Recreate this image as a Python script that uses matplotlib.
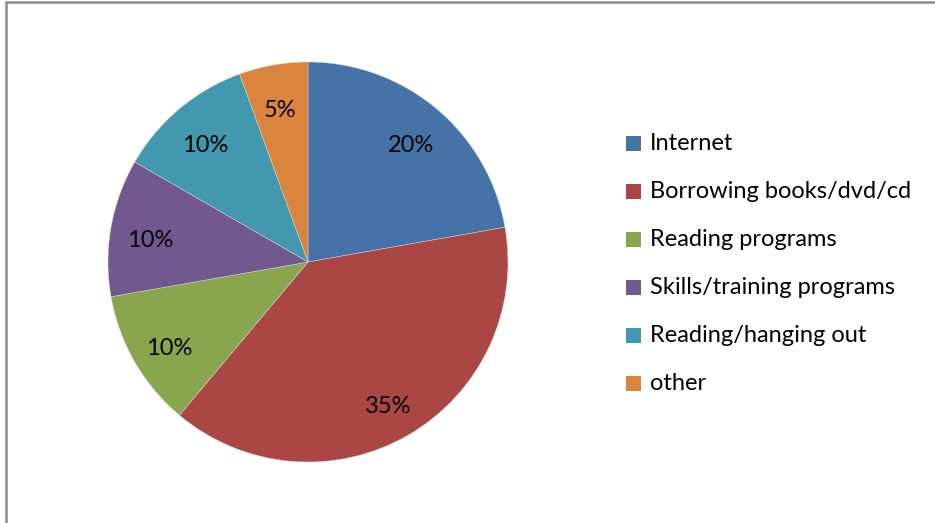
import numpy as np
import matplotlib.pyplot as plt
from matplotlib.patches import Rectangle

categories = ['Internet', 'Borrowing books/dvd/cd', 'Reading programs',
              'Skills/training programs', 'Reading/hanging out', 'other']
values = [20, 35, 10, 10, 10, 5]
colors = ['#4572A7', '#AA4643', '#89A54E', '#71588F', '#4198AF', '#DB843D']

plt.rcParams['font.family'] = ['Lato', 'DejaVu Sans']

fig = plt.figure(figsize=(9.35, 5.23), dpi=100)
W, H = 935, 523

# chart area frame (runs off the right and bottom edge)
fig.patches.append(Rectangle((5.5 / W, -0.05), 1.0, 1 - 2.5 / H + 0.05,
                             transform=fig.transFigure, fill=False,
                             edgecolor='#8c8c8c', linewidth=1.8, zorder=0))

ax = fig.add_axes([108 / W, 61 / H, 400 / W, 400 / H])
wedges, _ = ax.pie(values, colors=colors, startangle=90, counterclock=False,
                   radius=1.0, wedgeprops=dict(edgecolor='#dcdcdc', linewidth=0.3))
ax.set_xlim(-1, 1)
ax.set_ylim(-1, 1)
ax.set_aspect('equal')
ax.axis('off')

# value labels placed at the middle of each wedge
for w, v in zip(wedges, values):
    mid = np.deg2rad((w.theta1 + w.theta2) / 2)
    r = 0.8
    ax.text(r * np.cos(mid), r * np.sin(mid) - 0.03, f'{v}%', ha='center',
            va='center', fontsize=17, color='black')

# legend
y0 = 523 - 144
for i, (c, lab) in enumerate(zip(colors, categories)):
    y = (y0 - i * 48) / H
    fig.patches.append(Rectangle((626 / W, y - 7 / H), 15 / W, 15 / H,
                                 transform=fig.transFigure, facecolor=c,
                                 edgecolor='none'))
    fig.text(650 / W, y, lab, ha='left', va='center', fontsize=17, color='black')

fig.savefig('out.png', dpi=100)
